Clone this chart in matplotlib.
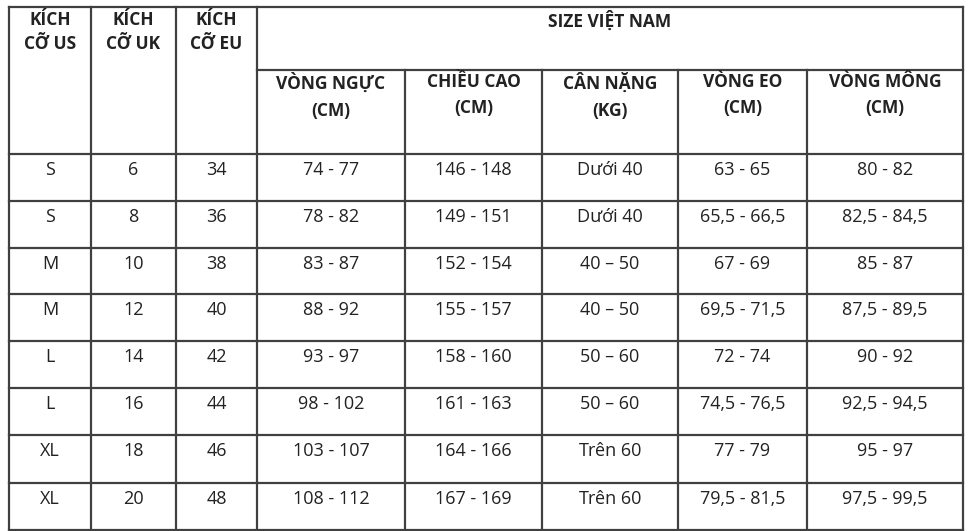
import matplotlib.pyplot as plt

# bảng size quần áo nữ
us_sizes = ['S', 'S', 'M', 'M', 'L', 'L', 'XL', 'XL']
uk_sizes = ['6', '8', '10', '12', '14', '16', '18', '20']
eu_sizes = ['34', '36', '38', '40', '42', '44', '46', '48']
vong_nguc = ['74 - 77', '78 - 82', '83 - 87', '88 - 92', '93 - 97', '98 - 102', '103 - 107', '108 - 112']
chieu_cao = ['146 - 148', '149 - 151', '152 - 154', '155 - 157', '158 - 160', '161 - 163', '164 - 166', '167 - 169']
can_nang = ['Dưới 40', 'Dưới 40', '40 – 50', '40 – 50', '50 – 60', '50 – 60', 'Trên 60', 'Trên 60']
vong_eo = ['63 - 65', '65,5 - 66,5', '67 - 69', '69,5 - 71,5', '72 - 74', '74,5 - 76,5', '77 - 79', '79,5 - 81,5']
vong_mong = ['80 - 82', '82,5 - 84,5', '85 - 87', '87,5 - 89,5', '90 - 92', '92,5 - 94,5', '95 - 97', '97,5 - 99,5']

left_headers = ['KÍCH\nCỠ US', 'KÍCH\nCỠ UK', 'KÍCH\nCỠ EU']
sub_headers = ['VÒNG NGỰC\n(CM)', 'CHIỀU CAO\n(CM)', 'CÂN NẶNG\n(KG)', 'VÒNG EO\n(CM)', 'VÒNG MÔNG\n(CM)']
top_header = 'SIZE VIỆT NAM'

cols = [us_sizes, uk_sizes, eu_sizes, vong_nguc, chieu_cao, can_nang, vong_eo, vong_mong]
xs = [9, 91, 176, 257, 405, 542, 678, 807, 963]
ys = [7, 154, 201, 248, 294, 341, 388, 435, 483, 530]
y_sub = 70

fig = plt.figure(figsize=(9.77, 5.31), dpi=100)
ax = fig.add_axes([0, 0, 1, 1])
ax.set_xlim(0, 977)
ax.set_ylim(531, 0)
ax.axis('off')

lc = '#404040'
lw = 1.6
# đường ngang
ax.plot([xs[0], xs[-1]], [ys[0], ys[0]], color=lc, lw=lw)
ax.plot([xs[3], xs[-1]], [y_sub, y_sub], color=lc, lw=lw)
for y in ys[1:]:
    ax.plot([xs[0], xs[-1]], [y, y], color=lc, lw=lw)
# đường dọc
for i, x in enumerate(xs):
    top = y_sub if 3 < i < len(xs) - 1 else ys[0]
    ax.plot([x, x], [top, ys[-1]], color=lc, lw=lw)

font = 'Open Sans'
tc = '#222222'
for i, h in enumerate(left_headers):
    ax.text((xs[i] + xs[i + 1]) / 2, 11, h, ha='center', va='top', fontsize=12.5,
            fontweight='bold', family=font, color=tc, linespacing=1.45)
ax.text((xs[3] + xs[-1]) / 2, 11, top_header, ha='center', va='top', fontsize=12.5,
        fontweight='bold', family=font, color=tc)
for i, h in enumerate(sub_headers):
    ax.text((xs[i + 3] + xs[i + 4]) / 2, 73, h, ha='center', va='top', fontsize=12.5,
            fontweight='bold', family=font, color=tc, linespacing=1.6)

for c, vals in enumerate(cols):
    for r, v in enumerate(vals):
        ax.text((xs[c] + xs[c + 1]) / 2, ys[r + 1] + 16, v, ha='center', va='center',
                fontsize=13, family=font, color=tc)

fig.savefig('out.png', dpi=100, facecolor='white')
